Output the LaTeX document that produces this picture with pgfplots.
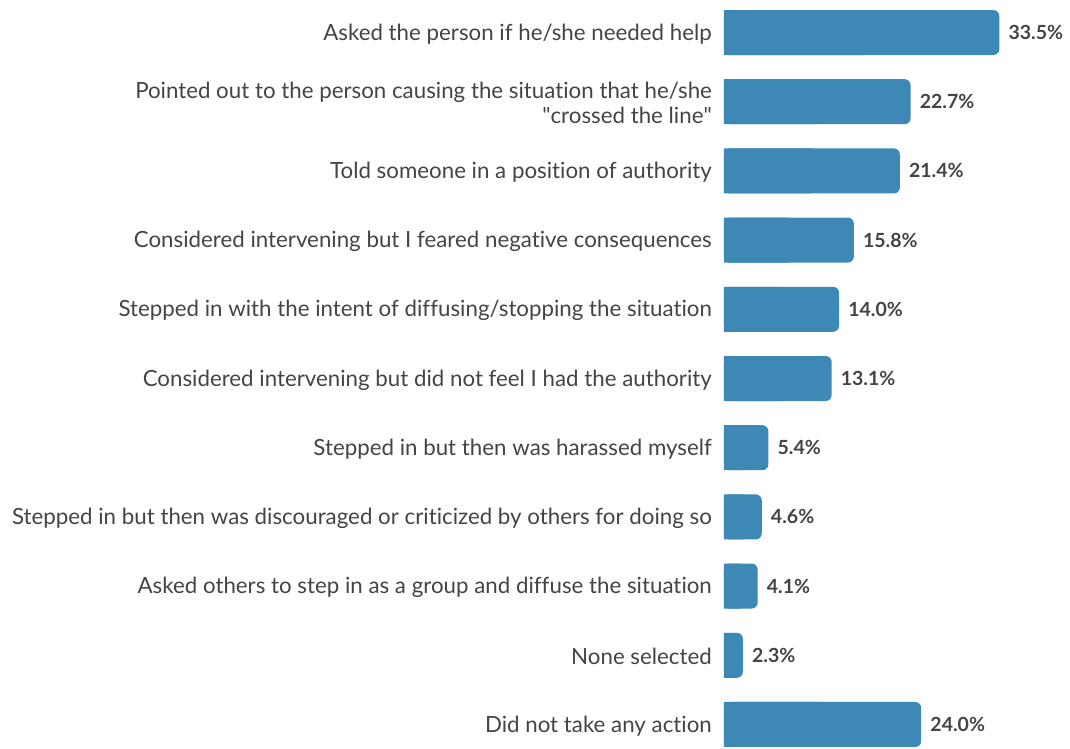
\documentclass[border=0pt]{standalone}
\usepackage{pgfplots}
\usepackage{pgfplotstable}
\pgfplotsset{compat=1.18}
\usepackage{fontspec}
\setmainfont{Lato}[Ligatures={TeX,NoCommon}]
\definecolor{barblue}{HTML}{3E88B6}
\definecolor{txt}{HTML}{444444}
\pgfplotstableread{
y v
0 33.5
1 22.7
2 21.4
3 15.8
4 14.0
5 13.1
6 5.4
7 4.6
8 4.1
9 2.3
10 24.0
}\datatable
\begin{document}
\begin{tikzpicture}
\begin{axis}[
 scale only axis, width=346pt, height=748pt,
 xmin=0, xmax=42.1, ymin=-0.47, ymax=10.34, y dir=reverse,
 xbar, bar width=45pt, bar shift=0pt,
 hide x axis,
 axis y line*=left, y axis line style={draw=none}, ytick style={draw=none},
 major tick length=0pt,
 ytick={0,...,10},
 yticklabels={Asked the person if he/she needed help,
 {Pointed out to the person causing the situation that he/she\\\textquotedbl crossed the line\textquotedbl},
 Told someone in a position of authority,
 Considered intervening but I feared negative consequences,
 Stepped in with the intent of diffusing/stopping the situation,
 Considered intervening but did not feel I had the authority,
 Stepped in but then was harassed myself,
 Stepped in but then was discouraged or criticized by others for doing so,
 Asked others to step in as a group and diffuse the situation,
 None selected,
 Did not take any action},
 yticklabel style={font=\fontsize{22.3}{25}\selectfont, text=txt, align=right, inner sep=0pt, xshift=-12pt, yshift=-1.5pt},
 clip=false,
]
\addplot[fill=barblue, draw=none, rounded corners=6pt,
 point meta=explicit,
 nodes near coords={\pgfmathprintnumber[fixed,fixed zerofill,precision=1,assume math mode=true]{\pgfplotspointmeta}\%},
 nodes near coords style={font=\bfseries\fontsize{19.5}{22}\selectfont, text=txt, anchor=west, inner sep=0pt, xshift=9pt}]
 table[x=v, y=y, meta=v] {\datatable};
\addplot[fill=barblue, draw=none] table[x expr=\thisrow{v}/2, y=y] {\datatable};
\end{axis}
\pgfresetboundingbox
\path ([xshift=-724pt]current axis.south west) rectangle (current axis.north east);
\end{tikzpicture}
\end{document}
